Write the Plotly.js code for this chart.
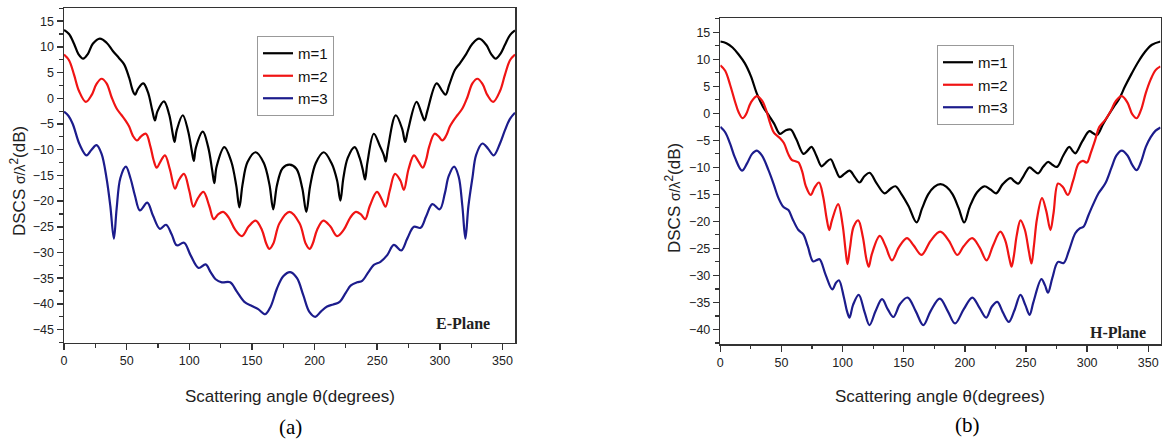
<!DOCTYPE html>
<html>
<head>
<meta charset="utf-8">
<script src="https://cdn.plot.ly/plotly-3.0.1.min.js"></script>
<style>html,body{margin:0;padding:0;background:#fff;}#chart{width:1162px;height:442px;}</style>
</head>
<body>
<div id="chart"></div>
<script>
// ---------------- Panel (a): E-Plane ----------------
const thetaE1 = [0,4,8,11.5,15.3,19,23,28.6,34,39,44,48,52,55,56.8,59,63.3,67,70.5,72.6,74.5,79.8,84,86.5,88.2,90,94.8,99,102,103.6,105.3,110.8,115,118.3,120,121.8,128,133.5,137.5,140,142.5,146.5,153,159.5,164,167,170,174.5,180,185.5,190.2,193.4,196.5,201,207.3,213.5,218,220.6,223,226.5,232,236,238.6,240.3,242.2,247.3,252,255.2,256.8,258.5,264.8,270,272.3,274.5,281.4,285.5,287.8,290,297.4,302,304.6,307.5,312,316,321,326,331.3,337,341,344.6,348.5,352,356,360];
const dscsE1  = [13.3,12.5,10.6,8.6,7.7,8.6,10.6,11.6,10.8,9.2,7.8,6.6,4.0,1.4,0.7,1.8,2.9,1.2,-2.4,-4.3,-2.6,-0.6,-3.2,-6.5,-8.5,-6.2,-3.3,-6.3,-10.2,-12.2,-9.6,-6.5,-9.4,-14,-16.5,-13.3,-9.5,-12.3,-17,-21.2,-16.8,-12.4,-10.5,-12.6,-16.8,-21.6,-16.9,-13.6,-12.9,-13.7,-17.5,-22.1,-17.0,-12.6,-10.5,-12.6,-16.0,-19.9,-15.5,-11.6,-9.5,-11.6,-14.0,-15.8,-12.5,-6.9,-9.2,-11.0,-12.3,-9.8,-3.3,-6.0,-8.5,-6.3,-0.7,-3.0,-4.3,-2.5,2.9,1.4,0.7,2.6,5.5,6.8,8.6,10.6,11.6,10.4,8.6,7.7,8.7,10.4,12.3,13.2];

const thetaE2 = [0,4,8,12,17.4,22,26,30,34,38,42,46,49,52,55,58.3,61.5,65.4,69,71.5,74,77,80.6,84.5,88.6,91.5,95.8,100,103.3,106.5,111.3,116,119.5,123,127,131.5,136.5,142,147.5,153,158,161.5,164,167,172,180,188,193,196,198.5,202,207,212.5,218,223.5,228.5,233,237,240.5,244,249.8,253.5,256.6,260,264.2,268.5,271.3,275,279.3,283,286.4,289,291.5,295.8,299,302,305,308,311,314,318,322,326,330,334,338,342.6,348,352,356,360];
const dscsE2  = [8.5,7.4,4.6,1.4,-0.7,0.6,2.8,3.8,2.9,0.2,-2.0,-3.3,-4.3,-5.5,-7.3,-8.2,-7.4,-6.9,-9.4,-12,-13.5,-12.3,-11.1,-13.8,-17.6,-16,-14.7,-18,-21.1,-19.6,-18.2,-21.0,-23.5,-22.6,-22.1,-23.2,-25.5,-26.8,-24.9,-23.8,-25.6,-28.3,-29.3,-28.3,-24.3,-22.1,-24.3,-28.3,-29.3,-28.3,-25.6,-23.8,-24.9,-26.8,-25.5,-23.2,-22.1,-22.6,-23.5,-21.0,-18.2,-19.6,-21.1,-18,-14.7,-16,-17.8,-13.8,-11.1,-12.3,-13.5,-12,-9.4,-6.9,-7.4,-8.2,-7.3,-5.5,-4.3,-3.3,-2.0,0.2,2.9,3.8,2.8,0.6,-0.7,1.4,4.6,7.4,8.5];

const thetaE3 = [0,3.5,7,12.5,18,22,26,30,34,37,39.8,42,45,49.4,53,56.6,60.6,66.5,71,76.6,81.4,86,90,95.8,101,107.5,113,117,121,126,132.6,138,144,150,155,160.6,165,170,175,180.6,186,191,196,200.6,205,210,215,220,225,229,234,238,243,247.3,252.6,258,263.3,269.2,274,279.3,284.6,289,294,299.9,304,307,311.4,315,318,320.4,322.8,326,329,334,338.5,343,348,352,356,360];
const dscsE3  = [-2.6,-3.4,-5.0,-9.0,-11.1,-10.0,-9.1,-10.8,-15.6,-21,-27.3,-21.5,-15.5,-13.3,-15.5,-18.9,-21.8,-20.3,-22.8,-25.4,-24.6,-26.5,-28.6,-28.1,-30.5,-33.0,-32.3,-33.8,-35.2,-35.8,-35.8,-37.6,-39.6,-40.4,-41.0,-42.0,-40.5,-37,-34.6,-33.8,-35,-38.3,-41.6,-42.5,-41.5,-40.5,-40.1,-39.6,-37.8,-36.4,-35.8,-35.5,-33.8,-32.4,-31.8,-30.5,-28.5,-29.6,-27.3,-25.0,-25.2,-23.0,-20.6,-21.6,-18.5,-15.2,-13.3,-15.2,-21,-27.3,-21,-15.5,-11,-8.8,-9.8,-11.1,-8.8,-6.2,-4.0,-2.8];

// ---------------- Panel (b): H-Plane ----------------
const thetaH1 = [0,5,10,15,20,25,30,35,40,44,48.8,53,57.5,62,68,71,74.6,78.5,82.8,86,90.2,94,97.7,101.5,105.8,110,113.8,118,122.1,128,134.3,139,143.2,148,154,160.5,165,170,175,180,185,190,195,199.5,204,210,216,221,225.6,231,237.4,240.5,243.6,248,252.9,256.5,259.9,264,268,271.5,275.4,280.5,285.4,288,290.3,296,301.8,305,308,313,317.5,322,326,331,336.5,342,347.4,353,360];
const dscsH1  = [13.3,13.0,12.2,10.9,9.3,6.9,3.6,1.2,-0.5,-1.9,-3.8,-3.2,-3.0,-4.7,-7.5,-7.0,-6.2,-7.8,-9.8,-9.2,-8.5,-10.2,-11.8,-11.2,-10.6,-11.8,-12.8,-11.6,-11.0,-13.0,-14.8,-14.0,-13.5,-14.9,-17.2,-20.2,-17.6,-15.0,-13.6,-13.1,-13.6,-15.0,-17.6,-20.2,-17.3,-14.6,-13.5,-14.1,-14.8,-13.1,-12.0,-12.6,-13.0,-11.6,-10.0,-10.6,-11.1,-9.9,-9.0,-9.5,-9.9,-7.8,-6.2,-6.9,-7.4,-5.2,-3.3,-3.7,-4.0,-2.0,-0.3,1.3,2.6,5.0,7.4,9.6,11.4,12.7,13.3];

const thetaH2 = [0,4,8,12,15,18.2,21,25,29.9,34,37.5,41,44,48.9,52,55.5,58.4,62,64,67,70,73.9,77,80.7,84,87,89.1,91.3,96.4,100,102.5,104,106,109,112.8,116.5,119.5,121.4,124,130.4,135,140.4,146,152.6,158,164.6,172,179.8,187,193.8,199,206,212,217.8,223,229,233,236.5,238.2,240,242.5,245.5,249,252.3,254.5,256.5,259,263.1,266.5,270,272.5,276.2,280,284.3,288.5,293,296.5,299.8,303,306.6,310,314.8,319,323.5,328.3,333,337,340.5,344,348,352,356,360];
const dscsH2  = [8.9,7.9,5.3,2.2,0.2,-0.9,-0.2,2.0,3.2,2.4,0.6,-2.0,-3.6,-4.6,-5.5,-7.5,-8.6,-8.9,-9.1,-10.8,-13.5,-15.1,-13.8,-12.8,-15.3,-19.5,-21.6,-19.8,-16.8,-20.6,-25.5,-27.9,-25,-21,-19.8,-22.8,-27.0,-28.4,-26,-22.7,-24.5,-27.2,-24.8,-23.1,-24.4,-26.2,-23.6,-21.9,-23.6,-26.2,-24.6,-23.1,-24.8,-27.2,-24.5,-21.9,-23.5,-27.0,-28.4,-26.5,-22.5,-19.8,-21.5,-25.5,-27.8,-24.5,-19.5,-15.7,-18.0,-21.6,-18.5,-13.0,-13.6,-15.1,-12.5,-9.3,-8.8,-9.1,-7.3,-4.9,-2.5,-1.2,0.3,2.3,3.2,2.0,-0.2,-0.9,0.6,3.8,6.3,8.0,8.7];

const thetaH3 = [0,4,8,12,17.7,22,26,29.9,34,39.4,43.5,47.6,51.5,55.7,59,63.9,67.9,71.5,75.8,78.5,81.2,86,91.6,94.5,97,101,103.7,105.7,108.5,113.2,118,122,127,132.3,137,141.5,147,153.2,160,166,172,179.5,186,192,199,206.1,212,217.5,222,226.5,231,236,240.5,245.5,249.5,252.9,256,262.6,265.5,268,271.5,276.2,280.8,285,290.3,294,297,301,305,309.3,314.8,320,324,328.3,333,337,340.5,344,348,352,356,360];
const dscsH3  = [-2.5,-3.5,-5.6,-8.2,-10.6,-9.2,-7.5,-6.9,-7.8,-10.5,-13.0,-15.7,-17.3,-17.9,-19.5,-21.6,-22.4,-24.6,-27.4,-27.2,-27.0,-29.8,-32.6,-31.4,-30.9,-34.0,-36.7,-37.8,-35.5,-33.6,-36.8,-39.2,-36.6,-34.4,-36.3,-37.7,-35.3,-34.1,-36.7,-39.2,-36.6,-34.3,-36.6,-38.9,-36.3,-34.1,-36.0,-37.8,-35.8,-34.9,-36.8,-38.6,-36.5,-33.6,-35.5,-37.3,-35,-30.7,-31.8,-33.2,-30.5,-27.5,-27.7,-25.5,-22.2,-21.3,-21.0,-18.9,-16.8,-14.8,-13.0,-10.0,-7.8,-6.9,-7.8,-9.6,-10.5,-9.0,-6.2,-4.4,-3.2,-2.6];

const seriesNames = ['m=1','m=2','m=3'];
const seriesColors = ['#000000','#f01414','#1c1c8c'];

const xTitle = 'Scattering angle θ(degrees)';
const yTitle = 'DSCS <span style="font-size:14px">σ/λ</span><sup>2</sup>(dB)';
const planeLabels = ['E-Plane','H-Plane'];
const captions = ['(a)','(b)'];

const sans = 'Arial, "Liberation Sans", sans-serif';
const serif = '"Times New Roman", "Liberation Serif", serif';

function mk(x, y, i, xa, ya, leg) {
  return {
    x: x, y: y, type: 'scatter', mode: 'lines', name: seriesNames[i],
    xaxis: xa, yaxis: ya, legend: leg, showlegend: true,
    line: {color: seriesColors[i], width: 2.2, shape: 'spline', smoothing: 1}
  };
}

const traces = [
  mk(thetaE1, dscsE1, 0, 'x', 'y', 'legend'),
  mk(thetaE2, dscsE2, 1, 'x', 'y', 'legend'),
  mk(thetaE3, dscsE3, 2, 'x', 'y', 'legend'),
  mk(thetaH1, dscsH1, 0, 'x2', 'y2', 'legend2'),
  mk(thetaH2, dscsH2, 1, 'x2', 'y2', 'legend2'),
  mk(thetaH3, dscsH3, 2, 'x2', 'y2', 'legend2')
];

const axLine = '#333333';
function xAxis(domain, anchor) {
  return {
    domain: domain, anchor: anchor, range: [0, 360], tick0: 0, dtick: 50,
    showline: true, mirror: true, linecolor: axLine, linewidth: 1.5,
    ticks: 'outside', ticklen: 6, tickwidth: 1.5, tickcolor: axLine,
    minor: {dtick: 25, ticks: 'outside', ticklen: 3.5, tickwidth: 1.2, tickcolor: axLine},
    showgrid: false, zeroline: false,
    tickfont: {family: sans, size: 12.5, color: '#222'}
  };
}
function yAxis(domain, anchor, range) {
  return {
    domain: domain, anchor: anchor, range: range, tick0: 0, dtick: 5,
    showline: true, mirror: true, linecolor: axLine, linewidth: 1.5,
    ticks: 'outside', ticklen: 6, tickwidth: 1.5, tickcolor: axLine,
    minor: {dtick: 2.5, ticks: 'outside', ticklen: 3.5, tickwidth: 1.2, tickcolor: axLine},
    showgrid: false, zeroline: false,
    tickfont: {family: sans, size: 12.5, color: '#222'}
  };
}

const W = 1162, H = 442;
function px(x) { return x / W; }
function py(y) { return 1 - y / H; }

const legendStyle = {
  bgcolor: '#ffffff', bordercolor: '#999999', borderwidth: 1,
  font: {family: sans, size: 15, color: '#111'},
  xanchor: 'left', yanchor: 'top', tracegroupgap: 0, itemwidth: 30
};

const layout = {
  width: W, height: H,
  margin: {l: 0, r: 0, t: 0, b: 0},
  paper_bgcolor: '#ffffff', plot_bgcolor: '#ffffff',
  xaxis: xAxis([px(64), px(515)], 'y'),
  yaxis: yAxis([py(342.5), py(8.3)], 'x', [-47.5, 17.5]),
  xaxis2: xAxis([px(720.3), px(1160.5)], 'y2'),
  yaxis2: yAxis([py(344), py(18.3)], 'x2', [-42.7, 17.6]),
  legend: Object.assign({x: px(257), y: py(36)}, legendStyle),
  legend2: Object.assign({x: px(937), y: py(45)}, legendStyle),
  annotations: [
    {text: xTitle, xref: 'paper', yref: 'paper', x: px(290), y: py(396), showarrow: false, xanchor: 'center', yanchor: 'middle', font: {family: sans, size: 17, color: '#222'}},
    {text: xTitle, xref: 'paper', yref: 'paper', x: px(940), y: py(396), showarrow: false, xanchor: 'center', yanchor: 'middle', font: {family: sans, size: 17, color: '#222'}},
    {text: yTitle, xref: 'paper', yref: 'paper', x: px(18), y: py(181), showarrow: false, textangle: -90, xanchor: 'center', yanchor: 'middle', font: {family: sans, size: 17, color: '#222'}},
    {text: yTitle, xref: 'paper', yref: 'paper', x: px(673), y: py(198), showarrow: false, textangle: -90, xanchor: 'center', yanchor: 'middle', font: {family: sans, size: 17, color: '#222'}},
    {text: '<b>' + planeLabels[0] + '</b>', xref: 'paper', yref: 'paper', x: px(462.5), y: py(323), showarrow: false, xanchor: 'center', yanchor: 'middle', font: {family: serif, size: 16, color: '#222'}},
    {text: '<b>' + planeLabels[1] + '</b>', xref: 'paper', yref: 'paper', x: px(1117.5), y: py(332), showarrow: false, xanchor: 'center', yanchor: 'middle', font: {family: serif, size: 16, color: '#222'}},
    {text: captions[0], xref: 'paper', yref: 'paper', x: px(290), y: py(427), showarrow: false, xanchor: 'center', yanchor: 'middle', font: {family: serif, size: 21, color: '#000'}},
    {text: captions[1], xref: 'paper', yref: 'paper', x: px(967.5), y: py(425), showarrow: false, xanchor: 'center', yanchor: 'middle', font: {family: serif, size: 21, color: '#000'}}
  ]
};

Plotly.newPlot('chart', traces, layout, {displayModeBar: false, staticPlot: true});
</script>
</body>
</html>
